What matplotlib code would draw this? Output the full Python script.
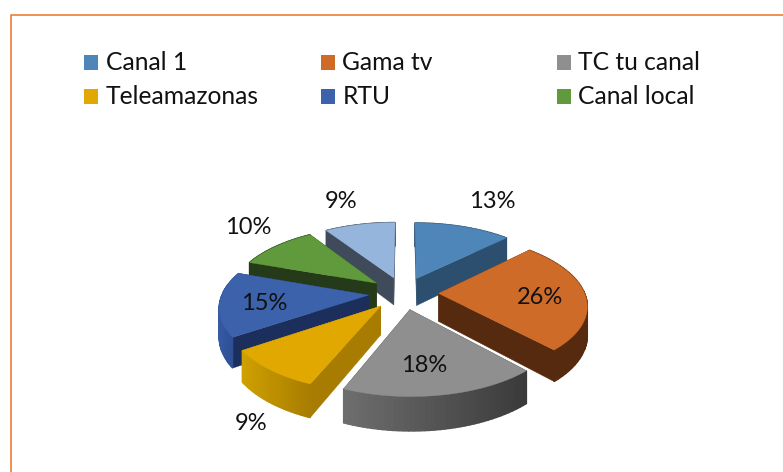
import numpy as np
import matplotlib
matplotlib.use('Agg')
import matplotlib.pyplot as plt
from matplotlib.colors import to_rgb

# datos
categories = ['Canal 1', 'Gama tv', 'TC tu canal', 'Teleamazonas', 'RTU', 'Canal local']
values = [12.6, 25.6, 18, 9.3, 14.9, 10.4, 9.2]
labels = ['13%', '26%', '18%', '9%', '15%', '10%', '9%']

# estilo
top_colors = ['#4F86B9', '#CF6B28', '#8F8F8F', '#E0A800', '#3B62AB', '#619A3C', '#95B5DC']
cut_colors = ['#2C4F70', '#552A0F', '#3D3D3D', '#A87C00', '#1C2E5C', '#253A18', '#3F4B5A']
wall_left = ['#2C4F70', '#552A0F', '#6E6E6E', '#CFA000', '#3559A3', '#253A18', '#3F4B5A']
wall_right = ['#2C4F70', '#552A0F', '#3A3A3A', '#A87C00', '#2A4A8A', '#253A18', '#3F4B5A']
label_xy = [(492, 201), (540, 298), (424, 365), (251, 424), (264, 303), (248, 228), (341, 201)]

cx, cy = 403.5, 293
R, Q = 146, 68
k = 0.152      # perspectiva
explode = 0.24
depth = 28

plt.rcParams['font.family'] = ['Lato', 'DejaVu Sans']

fig = plt.figure(figsize=(7.83, 4.72), dpi=100)
ax = fig.add_axes([0, 0, 1, 1])
ax.set_xlim(0, 783)
ax.set_ylim(472, 0)
ax.axis('off')

# marco
ax.plot([10.5, 10.5, 783], [472, 14.5, 14.5], color='#ED7D31', lw=1.2)


def project(x, y, z=0.0):
    s = 1 / (1 + k * y)
    return cx + R * x * s, cy - Q * y * s + z * depth * s


edges = np.cumsum([0] + values) / sum(values) * 2 * np.pi
mids = (edges[:-1] + edges[1:]) / 2

# de atras hacia adelante
for i in np.argsort(-np.cos(mids)):
    ox = explode * np.sin(mids[i])
    oy = explode * np.cos(mids[i])
    theta = np.linspace(edges[i], edges[i + 1], 40)
    ax_pts = ox + np.sin(theta)
    ay_pts = oy + np.cos(theta)

    # caras de corte
    for t in (edges[i], edges[i + 1]):
        ex, ey = ox + np.sin(t), oy + np.cos(t)
        a, b = project(ox, oy), project(ex, ey)
        c, d = project(ex, ey, 1), project(ox, oy, 1)
        ax.fill([a[0], b[0], c[0], d[0]], [a[1], b[1], c[1], d[1]],
                color=cut_colors[i], lw=0.3, zorder=1)

    # pared exterior con degradado
    left = np.array(to_rgb(wall_left[i]))
    right = np.array(to_rgb(wall_right[i]))
    sx0, sy0 = project(ax_pts, ay_pts)
    sx1, sy1 = project(ax_pts, ay_pts, 1)
    lo, hi = sx0.min(), sx0.max()
    for j in range(len(theta) - 1):
        f = ((sx0[j] + sx0[j + 1]) / 2 - lo) / max(hi - lo, 1)
        ax.fill([sx0[j], sx0[j + 1], sx1[j + 1], sx1[j]],
                [sy0[j], sy0[j + 1], sy1[j + 1], sy1[j]],
                color=left + (right - left) * f, lw=1.0, zorder=1)

    # tapa
    apex = project(ox, oy)
    ax.fill(np.r_[apex[0], sx0], np.r_[apex[1], sy0], color=top_colors[i], lw=0.3, zorder=1)

for txt, (x, y) in zip(labels, label_xy):
    ax.text(x, y, txt, fontsize=17, color='#111111', ha='center', va='center', zorder=3)

# leyenda
col_x = [84, 320.5, 556.5]
row_y = [55, 89]
for n, name in enumerate(categories):
    x = col_x[n % 3]
    y = row_y[n // 3]
    ax.fill([x, x + 14, x + 14, x], [y, y, y + 15, y + 15], color=top_colors[n], lw=0, zorder=2)
    ax.text(x + 22, y + 7.5, name, fontsize=17.7, color='#111111', ha='left', va='center', zorder=3)

fig.savefig('out.png', dpi=100)
